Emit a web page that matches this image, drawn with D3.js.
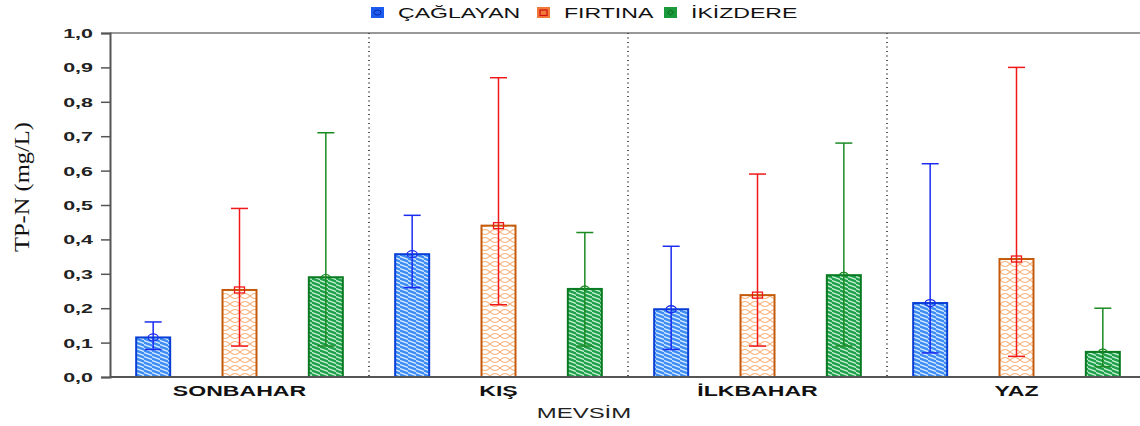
<!DOCTYPE html>
<html><head><meta charset="utf-8">
<script src="https://cdn.jsdelivr.net/npm/d3@7"></script>
<style>body{margin:0;background:#fff}svg{display:block}</style>
</head><body>
<svg id="c" width="1140" height="426"></svg>
<script>
const seasons = ["SONBAHAR", "KIŞ", "İLKBAHAR", "YAZ"];
const stations = ["ÇAĞLAYAN", "FIRTINA", "İKİZDERE"];
const caglayanMean = [0.115, 0.357, 0.197, 0.215];
const caglayanLow  = [0.08, 0.26, 0.08, 0.07];
const caglayanHigh = [0.16, 0.47, 0.38, 0.62];
const firtinaMean  = [0.253, 0.44, 0.238, 0.343];
const firtinaLow   = [0.09, 0.21, 0.09, 0.06];
const firtinaHigh  = [0.49, 0.87, 0.59, 0.90];
const ikizdereMean = [0.29, 0.256, 0.296, 0.073];
const ikizdereLow  = [0.09, 0.09, 0.09, 0.03];
const ikizdereHigh = [0.71, 0.42, 0.68, 0.20];
const yTicks = [0, 0.1, 0.2, 0.3, 0.4, 0.5, 0.6, 0.7, 0.8, 0.9, 1.0];
const yTitle = "TP-N (mg/L)";
const xTitle = "MEVSİM";

const means = [caglayanMean, firtinaMean, ikizdereMean];
const lows = [caglayanLow, firtinaLow, ikizdereLow];
const highs = [caglayanHigh, firtinaHigh, ikizdereHigh];

const svg = d3.select("#c");
const L = 110, R = 1140, T = 33, B = 377;
const x0 = d3.scaleBand().domain(seasons).range([L, L + 259 * 4]).paddingInner(0).paddingOuter(0);
const x1 = d3.scalePoint().domain(stations).range([0, x0.bandwidth()]).padding(0.5);
const y = d3.scaleLinear().domain([0, 1]).range([B, T]);
const SANS = "Liberation Sans, Arial, sans-serif";
const K = 1.65; // horizontal stretch of the sans text

function hscale(sel, k) {
  sel.each(function () {
    const t = d3.select(this);
    const x = +t.attr("x") || 0, yy = +t.attr("y") || 0;
    t.attr("x", 0).attr("y", 0).attr("transform", `translate(${x},${yy}) scale(${k},1)`);
  });
}

const defs = svg.append("defs");
let p = defs.append("pattern").attr("id", "pb").attr("patternUnits", "userSpaceOnUse")
  .attr("width", 8).attr("height", 4);
p.append("rect").attr("width", 8).attr("height", 4).attr("fill", "#3d8cf2");
p.append("path").attr("d", "M-4,-1 L12,5 M-4,-5 L12,1 M-4,3 L12,9").attr("stroke", "#d8ecff").attr("stroke-width", 1.3);
p = defs.append("pattern").attr("id", "pg").attr("patternUnits", "userSpaceOnUse")
  .attr("width", 8).attr("height", 4);
p.append("rect").attr("width", 8).attr("height", 4).attr("fill", "#1ea04a");
p.append("path").attr("d", "M-4,-1 L12,5 M-4,-5 L12,1 M-4,3 L12,9").attr("stroke", "#c8f0d4").attr("stroke-width", 1.3);
p = defs.append("pattern").attr("id", "po").attr("patternUnits", "userSpaceOnUse")
  .attr("width", 10).attr("height", 8);
p.append("rect").attr("width", 10).attr("height", 8).attr("fill", "#fff");
p.append("path").attr("d", "M0,0 Q5,5 10,0 M0,8 Q5,3 10,8").attr("fill", "none").attr("stroke", "#f7b27a").attr("stroke-width", 1.1);

const fills = ["url(#pb)", "url(#po)", "url(#pg)"];
const strokes = ["#0a3fd6", "#c45a0a", "#0a7a22"];
const errCols = ["#1a2cf0", "#f01818", "#1a8a22"];
const legFill = ["#1a5cf0", "#f07a3a", "#1a9a3a"];

svg.append("line").attr("x1", L).attr("x2", R).attr("y1", T).attr("y2", T).attr("stroke", "#999").attr("stroke-width", 2);

svg.append("g").selectAll("line").data(seasons.slice(1)).join("line")
  .attr("x1", d => x0(d)).attr("x2", d => x0(d)).attr("y1", T).attr("y2", B)
  .attr("stroke", "#555").attr("stroke-width", 2).attr("stroke-dasharray", "1,3.5");

const bw = 34;
stations.forEach((s, i) => {
  const g = svg.append("g");
  seasons.forEach((se, j) => {
    const cx = x0(se) + x1(s);
    const m = means[i][j], lo = lows[i][j], hi = highs[i][j];
    g.append("rect").attr("x", cx - bw / 2).attr("y", y(m)).attr("width", bw).attr("height", y(0) - y(m))
      .attr("fill", fills[i]).attr("stroke", strokes[i]).attr("stroke-width", 2);
    g.append("line").attr("x1", cx).attr("x2", cx).attr("y1", y(hi)).attr("y2", y(lo))
      .attr("stroke", errCols[i]).attr("stroke-width", 1.5);
    [hi, lo].forEach(v => g.append("line").attr("x1", cx - 8.5).attr("x2", cx + 8.5).attr("y1", y(v)).attr("y2", y(v))
      .attr("stroke", errCols[i]).attr("stroke-width", 1.5));
    if (i === 0) g.append("ellipse").attr("cx", cx).attr("cy", y(m)).attr("rx", 5).attr("ry", 3.5)
      .attr("fill", "none").attr("stroke", errCols[i]).attr("stroke-width", 1.3);
    if (i === 1) g.append("rect").attr("x", cx - 5).attr("y", y(m) - 3).attr("width", 10).attr("height", 6)
      .attr("fill", "none").attr("stroke", errCols[i]).attr("stroke-width", 1.3);
    if (i === 2) g.append("path").attr("d", `M${cx - 5},${y(m)} Q${cx},${y(m) - 6} ${cx + 5},${y(m)}`)
      .attr("fill", "none").attr("stroke", errCols[i]).attr("stroke-width", 1.2);
  });
});

const fmt = d => d3.format(".1f")(d).replace(".", ",");
const ya = svg.append("g").attr("transform", `translate(${L},0)`)
  .call(d3.axisLeft(y).tickValues(yTicks).tickFormat(fmt).tickSize(9).tickPadding(8));
ya.select(".domain").attr("stroke", "#555").attr("stroke-width", 2);
ya.selectAll(".tick line").attr("stroke", "#555").attr("stroke-width", 1.5);
ya.selectAll("text").attr("font-family", SANS).attr("font-size", 13)
  .attr("font-weight", "bold").attr("fill", "#222").attr("dy", "0.35em").call(hscale, K);

svg.append("line").attr("x1", L).attr("x2", R).attr("y1", B).attr("y2", B).attr("stroke", "#555").attr("stroke-width", 2);

svg.append("g").selectAll("text").data(seasons).join("text")
  .attr("x", d => x0(d) + x0.bandwidth() / 2).attr("y", 396).attr("text-anchor", "middle")
  .attr("font-family", SANS).attr("font-size", 14).attr("font-weight", "bold")
  .attr("fill", "#111").text(d => d).call(hscale, K);

svg.append("text").attr("x", 584).attr("y", 418).attr("text-anchor", "middle")
  .attr("font-family", SANS).attr("font-size", 14.5)
  .attr("fill", "#222").text(xTitle).call(hscale, K);

svg.append("text").attr("transform", "translate(29,187) rotate(-90)").attr("text-anchor", "middle")
  .attr("font-family", "Liberation Serif, Times New Roman, serif").attr("font-size", 20)
  .attr("fill", "#111").text(yTitle).attr("textLength", 130).attr("lengthAdjust", "spacingAndGlyphs");

const legX = [371, 537, 664];
const lg = svg.append("g");
stations.forEach((s, i) => {
  const gx = legX[i];
  lg.append("rect").attr("x", gx).attr("y", 7).attr("width", 13).attr("height", 11).attr("fill", legFill[i]);
  if (i === 0) lg.append("ellipse").attr("cx", gx + 6.5).attr("cy", 12.5).attr("rx", 3.5).attr("ry", 2.5).attr("fill", "none").attr("stroke", "#0a2aa0").attr("stroke-width", 1);
  if (i === 1) lg.append("rect").attr("x", gx + 3).attr("y", 10).attr("width", 7).attr("height", 5.5).attr("fill", "none").attr("stroke", "#d01010").attr("stroke-width", 1.2);
  if (i === 2) lg.append("path").attr("d", `M${gx + 3.5},12.5 L${gx + 6.5},10 L${gx + 9.5},12.5 L${gx + 6.5},15Z`).attr("fill", "none").attr("stroke", "#0a6a1a").attr("stroke-width", 1);
  lg.append("text").attr("x", gx + 27).attr("y", 18)
    .attr("font-family", SANS).attr("font-size", 14)
    .attr("fill", "#111").text(s).call(hscale, K);
});
</script>
</body></html>
